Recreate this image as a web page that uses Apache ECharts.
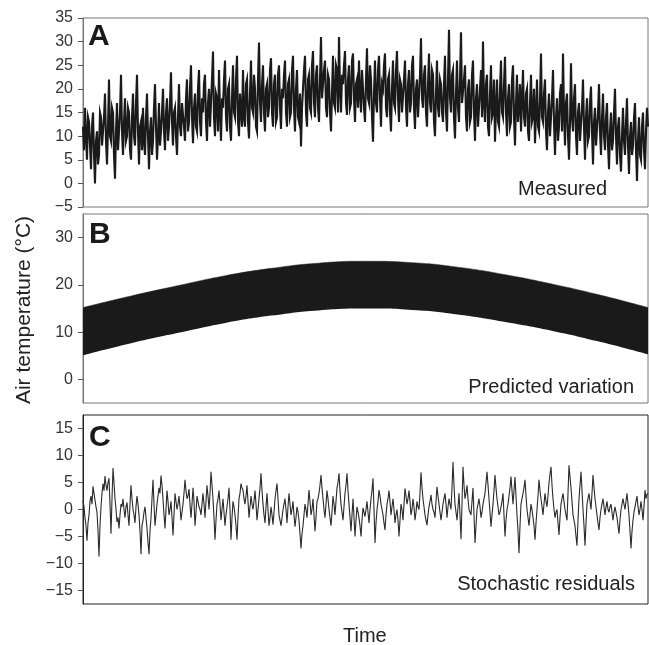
<!DOCTYPE html>
<html>
<head>
<meta charset="utf-8">
<script src="https://cdn.jsdelivr.net/npm/echarts@6/dist/echarts.min.js"></script>
<style>
html,body{margin:0;padding:0;background:#fff;}
#chart{width:649px;height:645px;}
</style>
</head>
<body>
<div id="chart"></div>
<script>
// Panel A: measured air temperature (°C)
const measured = [
  12, 7, 16, 10, 5, 14, 13, 8, 3, 12, 15, 6, 0, 9, 11, 4, 6, 15, 14, 8,
  8, 14, 19, 9, 4, 12, 22, 10, 9, 16, 15, 6, 1, 11, 17, 7, 7, 15, 23, 11,
  6, 13, 18, 9, 10, 16, 15, 7, 5, 14, 19, 10, 8, 17, 23, 11, 4, 12, 13, 7,
  16, 9, 6, 14, 19, 10, 3, 11, 14, 6, 9, 16, 21, 12, 5, 10, 17, 8, 11, 15,
  20, 11, 7, 15, 18, 9, 12, 17, 23.5, 13, 8, 15, 16, 10, 6, 14, 21, 12, 10, 17,
  17, 12, 9, 18, 22, 11, 13, 20, 25, 14, 8.5, 16, 19, 12, 11, 20, 24, 13, 10, 18,
  15, 21, 23, 13, 9, 17, 20, 12, 12, 22, 27.9, 14, 10, 19, 18, 11, 24, 15, 9, 18,
  16, 22, 26, 14, 11, 20, 21, 12, 9, 18, 25, 15, 14, 22, 27, 13, 10, 19, 19, 12,
  24, 14, 12, 21, 22, 13, 9.5, 19, 26, 16, 15, 23, 20, 12, 11, 22, 29.8, 17, 13, 21,
  25, 15, 11, 20, 21, 14, 16, 24, 26.5, 15, 12, 21, 23, 13, 14, 23, 25, 16, 11.5, 20,
  18, 23, 26, 15, 12, 21, 22, 14, 15, 24, 27, 16, 11, 20, 24, 14, 13, 19, 7.8, 16,
  20, 24, 27, 15, 12, 22, 23, 16, 15, 25, 28, 17, 14, 23, 25, 16, 13, 22, 31, 18,
  18, 24, 26, 16, 14, 23, 22, 15, 11, 19, 27, 17, 16, 25, 24, 15, 31, 20, 15, 23,
  21, 25, 28, 17, 14.5, 22, 25, 16, 17, 26, 27.5, 18, 13, 21, 22, 16, 26, 19, 15, 24,
  24, 16, 13, 22, 28.6, 18, 17, 25, 22, 14, 8.8, 19, 26, 17, 15, 24, 27, 18, 12, 21,
  20, 25, 27.5, 16, 14, 22, 23, 15, 11, 20, 26, 17, 16, 24, 28, 18, 13, 22, 21, 15,
  15, 22, 26, 16, 12, 21, 24, 15, 17, 25, 27, 16, 11.5, 20, 22, 14, 14, 23, 30.7, 18,
  16, 23, 25, 15, 12, 21, 27.5, 17, 15, 24, 23, 13, 10, 19, 26, 16, 14, 22, 21, 15,
  13, 21, 27, 15, 11, 22, 32.5, 18, 15, 23, 24, 14, 9.5, 19, 26, 16, 13, 22, 32, 17,
  17, 22, 25, 14, 11, 20, 22, 13, 14, 23, 26, 15, 9, 18, 21, 12, 12, 20, 24, 14,
  30, 17, 13, 21, 23, 12, 10, 19, 25, 14, 15, 22, 8.8, 16, 22, 13, 12, 20, 26, 15,
  14, 21, 26.8, 15, 10, 18, 21, 12, 13, 22, 25, 14, 8, 17, 23, 13, 16, 21, 11, 18,
  24, 14, 12, 19, 20, 11, 9, 17, 23, 13, 14, 20, 8.5, 15, 22, 12, 11, 18, 27.5, 14,
  13, 19, 22, 11, 7, 15, 19, 10, 10, 18, 24, 13, 6, 14, 18, 9, 12, 19, 21, 11,
  27.5, 15, 8, 17, 19, 10, 5, 13, 25.4, 14, 11, 18, 21, 10, 6, 15, 17, 9, 9, 16,
  22, 12, 5, 14, 18, 9, 10, 17, 20.5, 11, 4, 13, 16, 8, 8, 15, 21, 11, 6, 14,
  19, 10, 7, 14, 17, 8, 3, 11, 15, 7, 9, 15, 20, 10, 4, 12, 14, 6, 2.5, 10,
  16, 9, 6, 13, 18, 8, 2, 10, 13, 6, 8, 14, 17, 7, 0.5, 9, 14, 6, 5, 12, 15, 7, 3, 11, 16, 12
];

// Panel B: envelope of the predicted variation (°C), read at 13 evenly spaced times
const predUpper = [15.2, 17.6, 19.8, 21.9, 23.5, 24.6, 25.0, 24.7, 23.7, 22.1, 20.1, 17.8, 15.2];
const predLower = [5.1, 7.6, 9.8, 11.9, 13.5, 14.6, 15.0, 14.7, 13.7, 12.1, 10.2, 7.9, 5.3];

// Panel C: stochastic residuals (°C)
const residuals = [
  1.7, 0.5, -1.5, -3, -5.8, -2.5, -1, 1.5, 2.5, 1, 4.3, 3, 2.8, 0.5, -0.5, -4, -8.7, -3, 0.5, 3,
  4.8, 3.5, 6.2, 4.5, 3.5, 5, 5.8, 1, -4.5, 2, 7.7, 5, 2, 0, -2.3, -1.5, -3.5, -1, 1, 0.5,
  2, 0, -1.5, 0.5, 1.3, -1, -3, 1, 4.5, 2, 0, -1, -2.5, 0.5, 2.5, 1, -1, -4, -8.3, -3,
  -2, -0.5, 0.5, -1.5, -3.5, -6, -8.3, -4, -1.5, 2, 5.5, 1, -3, -1, 1, 2.5, 4, 3, 6.3, 4.5,
  2, -1, -3.5, 0, 3.5, 1.5, -1, 0, 1.5, -1.5, -4.8, -1, 3, 1.5, 0, 1, 2.5, 0.5, -2, -0.5,
  1, 3, 5.5, 3.5, 2, 2.5, 3.8, 1, -1.5, 1, 4, 1.5, -3, -0.5, 2.5, 1.5, 0.5, 0, -1, 1,
  3, 1, -1.5, 1.5, 4.5, 2.5, 0, 3, 7, 4.5, 2, -1.5, -5.6, -2, 1, 2, 3.5, 1, -2, 0,
  2, -0.5, -3, -1, 0.5, 2, 4, 0, -5.6, -1.5, 1.5, 0.5, -1, -3, -5.6, -1.5, 2, 3, 4.8, 4,
  3.6, 2, 1, 2.5, 4.5, 1.5, -1.5, 0.5, 2.5, 1, 0, 1.5, 3.5, 1, -2, 0, 2, 4, 6.7, 3.5,
  1, -1, -2.5, 0.5, 3, 0, -3, -1.5, 0.5, -1, -2.8, -0.5, 2, 3.5, 4.8, 2, -1, -2, -3, -1.5,
  0, 1, 2, 0, -2.5, 0.5, 3, 1, -1, 0, 1.5, -1, -3.2, -1.5, 0.5, -0.5, -2, -4.5, -7.2, -4.5,
  -3, -1, 1, 0, -1.5, 1, 3.6, 1.5, -1, 0, 2, -1, -4, -1.5, 1.5, 2, 3, 4.5, 6.4, 4,
  2, 0, -1.5, 1, 3.5, 2, 0, -1.5, -3, -0.5, 2.5, 1, -1, 1.5, 4, 5, 6.7, 3.5, 1, -0.5,
  -2, 0.5, 3, 4.5, 6.7, 3.5, 1, -1.5, -4, -1, 2, -1.5, -5, -2, 0.5, -0.5, -1.5, -3, -5, -2,
  0.3, -0.5, -1.3, 0, 1.5, -0.5, -2.5, 0, 2, 3.5, 5.8, 0, -6.2, -2.5, 0, 1.5, 3.6, 2.5, 1, 0,
  -1, -2.5, -3.8, -1, 1, 2, 3.5, 1.5, -1, 0.5, 2, 0, -2.5, -1, 0, -2, -5, -2, 1, 0,
  -2, 1, 3.9, 2.5, 1, 2, 3.5, 1.5, -1, 0, 2, 0.5, -2, -0.5, 1.5, 0.5, 0, 3, 6.9, 4,
  2, 0.5, -1, -2, -2.9, -1, 0.5, 1.5, 2.7, 1, 0, -0.5, -1.5, 1.5, 4.2, 2.5, 1, -0.5, -2, -0.5,
  1, 2, 3, 1, -1.5, 0.5, 2, 1, 0, 4, 8.8, 4.5, 1, -0.5, -2, 0.5, 3, -1, -5.5, 1,
  7.9, 4.5, 2, 3, 4.5, 2, 0, -0.5, -1, 1.5, 4, -1, -6.2, -3, 0, 1, 2, 0.5, -1.5, -0.5,
  1, 2, 3, 5, 7, 4.5, 2, -0.5, -3.2, -1, 1, 3.5, 6.4, 4, 2, 0.5, -1, -0.5, 0.5, 1.5,
  3, -1, -5, -2, 0, 1, 2.5, 4, 6.1, 3.5, 1, 3.5, 6, 2.5, -1, -4, -8.1, -3, 1, 2,
  3, 4, 5.5, 2.5, 0, -1.5, -3, -1, 1, 0, -1.5, -3, -5.6, -2.5, 0, 2.5, 5.5, 3.5, 2, 0.5,
  -1, 1, 3, 1.5, 0.5, 2.5, 5, 6.5, 7.9, 4.5, 2, 0, -1.5, -0.5, 0, -2.5, -4.7, -1.5, 1, 2,
  3, 1.5, 0, -1, -2, 3, 8.2, 6, 4, 1.5, -1, -2, -3, -5, -6.7, -2, 2, 4.5, 7, 3.5,
  0, -3, -6.7, -2.5, 1, 2, 3, 1.5, 0, 3, 6.4, 4, 2, 0.5, -1, -2.5, -3.8, -1.5, 0, 1,
  2, 0.5, -1, 0.5, 1.5, 0, -0.5, 0.5, 1, -0.5, -2, -0.5, 0.5, -0.5, -1.5, -3, -4.5, -2, 0, 1,
  2, 1, 0, 1.5, 3, 1, -1, -4, -7.2, -4, -2, -0.5, 0.5, 1.5, 2.5, 0.5, -1, 0, 1.5, 0, -2, 0.5, 3.6, 2, 2.8, 3
];

const ticksA = [-5, 0, 5, 10, 15, 20, 25, 30, 35];
const ticksB = [0, 10, 20, 30];
const ticksC = [-15, -10, -5, 0, 5, 10, 15];

const panelLetters = ['A', 'B', 'C'];
const panelTitles = ['Measured', 'Predicted variation', 'Stochastic residuals'];
const yAxisTitle = 'Air temperature (°C)';
const xAxisTitle = 'Time';

const chart = echarts.init(document.getElementById('chart'), null, {renderer: 'canvas'});
const FONT = 'Liberation Sans, Arial, sans-serif';
const fmt = v => String(v).replace('-', '\u2212');

const idxA = measured.map((_, i) => i);
const idxB = predUpper.map((_, i) => i);
const idxC = residuals.map((_, i) => i);
const bandB = predUpper.map((u, i) => +(u - predLower[i]).toFixed(2));

function yAx(gi, min, max, ticks, col) {
  return {
    type: 'value', gridIndex: gi, min: min, max: max,
    splitLine: {show: false},
    axisLine: {show: true, lineStyle: {color: col, width: 1}},
    axisTick: {show: true, length: 5, inside: false, customValues: ticks, lineStyle: {color: '#555'}},
    axisLabel: {customValues: ticks, formatter: fmt, fontSize: 16, color: '#333', fontFamily: FONT, margin: 10}
  };
}
function xAx(gi, data) {
  return {
    type: 'category', gridIndex: gi, data: data, boundaryGap: false,
    axisLine: {show: false}, axisTick: {show: false}, axisLabel: {show: false}, splitLine: {show: false}
  };
}

const option = {
  animation: false,
  backgroundColor: '#fff',
  grid: [
    {left: 83, top: 18, width: 565, height: 189, show: true, borderColor: '#777', borderWidth: 1},
    {left: 83, top: 214, width: 565, height: 189, show: true, borderColor: '#777', borderWidth: 1},
    {left: 83, top: 415, width: 565, height: 189, show: true, borderColor: '#222', borderWidth: 1}
  ],
  xAxis: [xAx(0, idxA), xAx(1, idxB), xAx(2, idxC)],
  yAxis: [
    yAx(0, -5, 35, ticksA, '#777'),
    yAx(1, -5, 35, ticksB, '#777'),
    yAx(2, -17.5, 17.5, ticksC, '#222')
  ],
  series: [
    {type: 'line', xAxisIndex: 0, yAxisIndex: 0, data: measured, showSymbol: false, sampling: null,
     progressive: 0, lineStyle: {color: '#1a1a1a', width: 2.1, join: 'miter'}},
    {type: 'line', xAxisIndex: 1, yAxisIndex: 1, data: predLower, stack: 'band', smooth: true,
     showSymbol: false, lineStyle: {opacity: 0}},
    {type: 'line', xAxisIndex: 1, yAxisIndex: 1, data: bandB, stack: 'band', smooth: true,
     showSymbol: false, lineStyle: {color: '#1a1a1a', width: 0.5}, areaStyle: {color: '#1a1a1a', opacity: 1}},
    {type: 'line', xAxisIndex: 2, yAxisIndex: 2, data: residuals, showSymbol: false, sampling: null,
     progressive: 0, lineStyle: {color: '#2a2a2a', width: 1.1}}
  ],
  graphic: [
    {type: 'text', left: 88, top: 22, style: {text: panelLetters[0], font: 'bold 30px ' + FONT, fill: '#1a1a1a'}},
    {type: 'text', left: 89, top: 220, style: {text: panelLetters[1], font: 'bold 30px ' + FONT, fill: '#1a1a1a'}},
    {type: 'text', left: 89, top: 423, style: {text: panelLetters[2], font: 'bold 30px ' + FONT, fill: '#1a1a1a'}},
    {type: 'text', right: 42, top: 179, style: {text: panelTitles[0], font: '20px ' + FONT, fill: '#222'}},
    {type: 'text', right: 15, top: 377, style: {text: panelTitles[1], font: '20px ' + FONT, fill: '#222'}},
    {type: 'text', right: 14, top: 574, style: {text: panelTitles[2], font: '20px ' + FONT, fill: '#222'}},
    {type: 'text', left: 343, top: 626, style: {text: xAxisTitle, font: '20px ' + FONT, fill: '#222'}},
    {type: 'text', x: 24, y: 310, rotation: Math.PI / 2,
     style: {text: yAxisTitle, font: '21px ' + FONT, fill: '#222', align: 'center', verticalAlign: 'middle'}}
  ]
};
chart.setOption(option);
</script>
</body>
</html>
